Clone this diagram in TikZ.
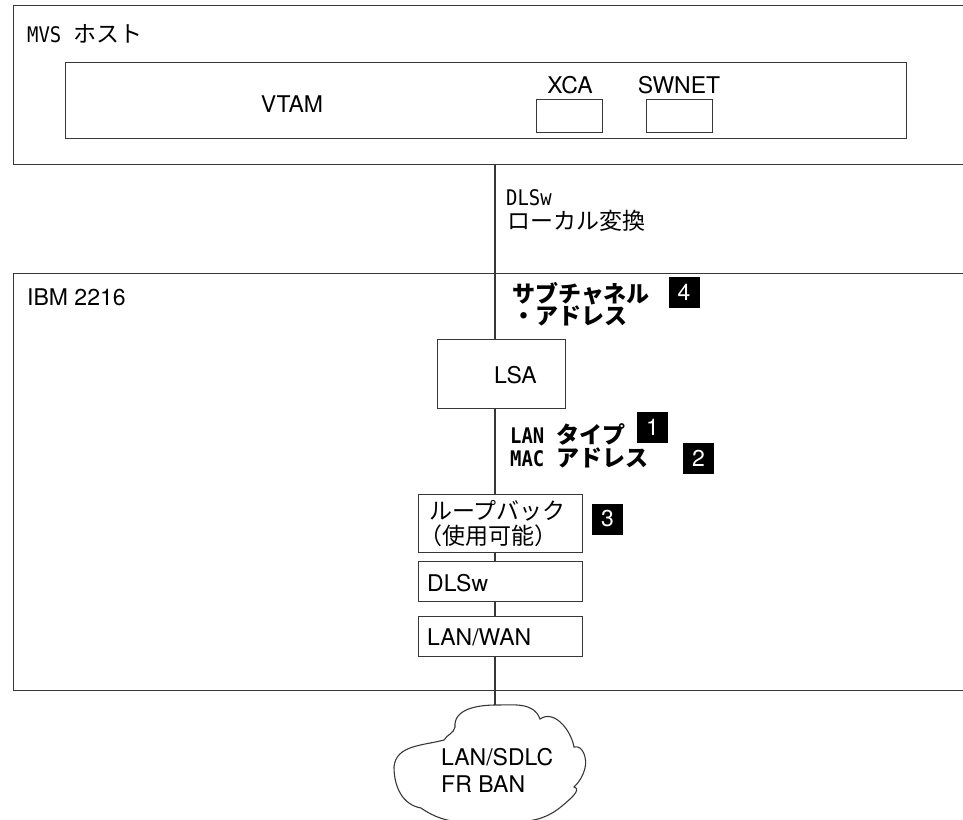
\documentclass[tikz,border=0pt]{standalone}
\usepackage{fontspec}
\setmainfont{TeX Gyre Heros}
\newfontfamily\cjk{Noto Sans CJK JP}
\newfontfamily\mono{DejaVu Sans Mono}
\definecolor{lc}{RGB}{55,55,55}
\newcommand{\monotxt}[1]{\scalebox{0.88}[1]{\mono\fontsize{21.5}{24}\selectfont #1}}
\newcommand{\monobtxt}[1]{\scalebox{0.88}[1]{\mono\bfseries\fontsize{21.5}{24}\selectfont #1}}
\begin{document}
\begin{tikzpicture}[x=1pt,y=-1pt,
  box/.style={draw=lc, line width=1.3pt, inner sep=0pt, anchor=north west},
  lat/.style={font=\fontsize{23}{27}\selectfont, inner sep=0pt},
  jp/.style={font=\cjk\fontsize{23}{27}\selectfont, inner sep=0pt, anchor=base west},
  jpb/.style={font=\cjk\bfseries\fontsize{23}{27}\selectfont, inner sep=0pt, anchor=base west},
  numbox/.style={fill=black, text=white, minimum width=31pt, minimum height=31pt, inner sep=0pt, font=\fontsize{23}{23}\selectfont},
  conn/.style={draw=lc, line width=1.3pt}]
\useasboundingbox (0,0) rectangle (963,819);

% outer boxes (open to the right edge)
\node[box, minimum width=970pt, minimum height=159pt] (mvs) at (13,5) {};
\node[box, minimum width=970pt, minimum height=417pt] (ibm) at (13,273) {};

% MVS host contents
\node[inner sep=0pt, anchor=base west] (mvslbl) at (27,42) {\monotxt{MVS}\hspace{12pt}{\cjk\fontsize{23}{27}\selectfont ホスト}};
\node[box, minimum width=841pt, minimum height=76pt] (vtambox) at (65,62) {};
\node[lat, anchor=base] (vtam) at (292,112) {VTAM};
\node[lat, anchor=base] (xcalbl) at (570,93) {XCA};
\node[lat, anchor=base] (swlbl) at (679,93) {SWNET};
\node[box, minimum width=66pt, minimum height=33pt] (xca) at (536,99) {};
\node[box, minimum width=66pt, minimum height=33pt] (swnet) at (646,99) {};

% middle label
\node[inner sep=0pt, anchor=base west] (dlswlbl) at (506,205) {\monotxt{DLSw}};
\node[jp] (local) at (507,229) {ローカル変換};

% IBM 2216 contents
\node[lat, anchor=base west] (ibmlbl) at (27,305) {IBM 2216};
\node[jpb] (sub1) at (512,302) {サブチャネル};
\node[jpb] (sub2) at (512,324) {・アドレス};
\node[numbox] (n4) at (684,292.5) {4};

\node[box, minimum width=128pt, minimum height=69pt] (lsa) at (437,339) {};
\node[lat, anchor=base west] (lsalbl) at (494,383) {LSA};

\node[inner sep=0pt, anchor=base west] (lantype) at (510,443) {\monobtxt{LAN}\hspace{12pt}{\cjk\bfseries\fontsize{23}{27}\selectfont タイプ}};
\node[inner sep=0pt, anchor=base west] (macaddr) at (510,466) {\monobtxt{MAC}\hspace{12pt}{\cjk\bfseries\fontsize{23}{27}\selectfont アドレス}};
\node[numbox] (n1) at (652.5,427.5) {1};
\node[numbox] (n2) at (698.5,458.5) {2};

\node[box, minimum width=164pt, minimum height=58pt] (loop) at (418,494) {};
\node[jp] (loop1) at (429,519) {ループバック};
\node[jp] (loop2) at (419,544) {（使用可能）};
\node[numbox] (n3) at (607.5,519) {3};

\node[box, minimum width=164pt, minimum height=40pt] (dlsw) at (418,561) {};
\node[lat, anchor=base west] (dlswtxt) at (427,591) {DLSw};
\node[box, minimum width=164pt, minimum height=40pt] (lanwan) at (418,616) {};
\node[lat, anchor=base west] (lanwantxt) at (427,645) {LAN/WAN};

% cloud
\coordinate (cloudtop) at (496,705);
\draw[lc, line width=1.1pt] (455,727) to[out=95,in=180] (cloudtop) to[out=0,in=110] (540,719)
  to[out=35,in=100] (574,747)
  to[out=15,in=75] (585,768) to[out=-105,in=45] (574,787)
  to[out=-15,in=40] (562,806)
  to[out=-140,in=0] (505,822) to[out=180,in=-35] (421,808)
  to[out=170,in=-90] (394,767) to[out=85,in=195] (444,740)
  to[out=60,in=-100] (455,727);
\node[lat, anchor=base west] (cl1) at (441,765) {LAN/SDLC};
\node[lat, anchor=base west] (cl2) at (441,792) {FR BAN};

% connectors along x = 495
\coordinate (vx) at (495,0);
\draw[conn] (vx |- mvs.south) -- (vx |- lsa.north);
\draw[conn] (vx |- lsa.south) -- (vx |- loop.north);
\draw[conn] (vx |- loop.south) -- (vx |- dlsw.north);
\draw[conn] (vx |- dlsw.south) -- (vx |- lanwan.north);
\draw[conn] (vx |- lanwan.south) -- (vx |- cloudtop);
\end{tikzpicture}
\end{document}
